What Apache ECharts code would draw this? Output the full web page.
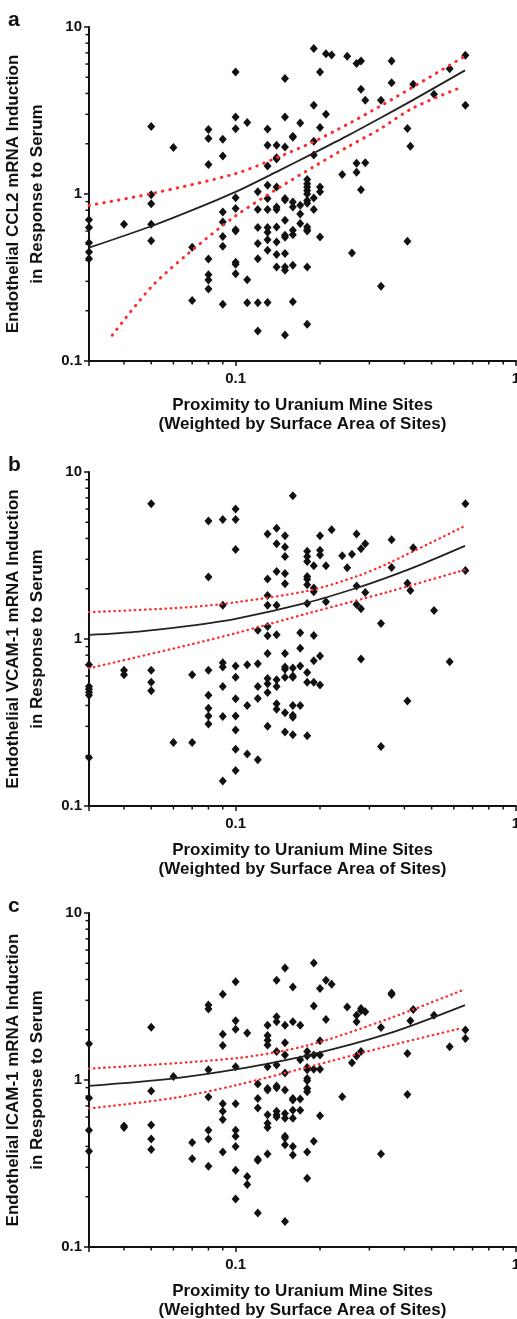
<!DOCTYPE html>
<html><head><meta charset="utf-8">
<script src="https://cdn.jsdelivr.net/npm/echarts@6/dist/echarts.min.js"></script>
<style>html,body{margin:0;padding:0;background:#fff}#c{width:517px;height:1319px}</style>
</head><body><div id="c"></div>
<script>
// ---- tick values ----
const xMinorTicks = [0.04,0.05,0.06,0.07,0.08,0.09,0.2,0.3,0.4,0.5,0.6,0.7,0.8,0.9];
const yMinorTicks = [0.2,0.3,0.4,0.5,0.6,0.7,0.8,0.9,2,3,4,5,6,7,8,9];
const xRange = [0.03, 1];
const yRange = [0.1, 10];

// ---- texts ----
const panelLetters = ['a','b','c'];
const xName = 'Proximity to Uranium Mine Sites\n(Weighted by Surface Area of Sites)';
const yNames = [
  'Endothelial CCL2 mRNA Induction\nin Response to Serum',
  'Endothelial VCAM-1 mRNA Induction\nin Response to Serum',
  'Endothelial ICAM-1 mRNA Induction\nin Response to Serum'
];

// ---- panel a: CCL2 ----
const ccl2Points = [
[0.03,0.70],[0.03,0.63],[0.03,0.51],[0.03,0.45],[0.03,0.41],
[0.04,0.66],
[0.05,2.54],[0.05,0.99],[0.05,0.875],[0.05,0.66],[0.05,0.524],
[0.06,1.90],
[0.07,0.48],[0.07,0.23],
[0.08,2.43],[0.08,2.15],[0.08,1.50],[0.08,0.408],[0.08,0.328],[0.08,0.305],[0.08,0.27],
[0.09,2.13],[0.09,1.69],[0.09,0.78],[0.09,0.68],[0.09,0.557],[0.09,0.486],[0.09,0.219],
[0.10,5.38],[0.10,2.89],[0.10,2.46],[0.10,0.95],[0.10,0.82],[0.10,0.61],[0.10,0.60],[0.10,0.39],[0.10,0.38],[0.10,0.333],
[0.11,2.68],[0.11,0.307],[0.11,0.223],
[0.12,1.03],[0.12,0.807],[0.12,0.63],[0.12,0.505],[0.12,0.41],[0.12,0.223],[0.12,0.151],
[0.13,2.45],[0.13,1.96],[0.13,1.47],[0.13,1.13],[0.13,0.94],[0.13,0.807],[0.13,0.63],[0.13,0.59],[0.13,0.533],[0.13,0.46],[0.13,0.224],
[0.14,1.96],[0.14,1.65],[0.14,1.62],[0.14,1.10],[0.14,0.836],[0.14,0.807],[0.14,0.634],[0.14,0.516],[0.14,0.434],[0.14,0.366],
[0.15,4.91],[0.15,2.89],[0.15,1.91],[0.15,0.94],[0.15,0.92],[0.15,0.697],[0.15,0.566],[0.15,0.55],[0.15,0.44],[0.15,0.366],[0.15,0.35],[0.15,0.143],
[0.16,2.22],[0.16,2.19],[0.16,0.895],[0.16,0.836],[0.16,0.607],[0.16,0.57],[0.16,0.374],[0.16,0.226],
[0.17,2.66],[0.17,0.855],[0.17,0.76],[0.17,0.665],
[0.18,1.22],[0.18,1.15],[0.18,1.10],[0.18,1.05],[0.18,1.0],[0.18,0.915],[0.18,0.88],[0.18,0.635],[0.18,0.61],[0.18,0.60],[0.18,0.366],[0.18,0.166],
[0.19,7.44],[0.19,3.40],[0.19,2.07],[0.19,1.71],[0.19,0.946],[0.19,0.807],
[0.20,5.38],[0.20,2.50],[0.20,1.10],[0.20,1.03],[0.20,0.553],
[0.21,6.92],[0.21,3.00],
[0.22,6.79],
[0.24,1.31],
[0.25,6.68],
[0.26,0.443],
[0.27,6.04],[0.27,1.53],[0.27,1.35],
[0.28,6.25],[0.28,4.24],[0.28,1.06],
[0.29,3.64],[0.29,1.54],
[0.33,3.64],[0.33,0.28],
[0.36,6.25],[0.36,4.64],
[0.41,2.47],[0.41,0.521],
[0.42,1.93],
[0.43,4.54],
[0.51,3.95],
[0.58,5.63],
[0.66,6.77],[0.66,3.40]
];
const ccl2Fit   = [[0.03,0.477],[0.05,0.641],[0.07,0.80],[0.1,1.03],[0.144,1.39],[0.189,1.75],[0.249,2.22],[0.327,2.84],[0.43,3.66],[0.658,5.5]];
const ccl2Upper = [[0.03,0.855],[0.05,1.005],[0.1,1.325],[0.144,1.68],[0.19,2.06],[0.249,2.60],[0.327,3.35],[0.43,4.38],[0.658,6.7]];
const ccl2Lower = [[0.0363,0.1426],[0.05,0.277],[0.0681,0.443],[0.1,0.74],[0.144,1.10],[0.189,1.45],[0.249,1.90],[0.327,2.45],[0.43,3.28],[0.648,4.4]];

// ---- panel b: VCAM-1 ----
const vcamPoints = [
[0.03,0.70],[0.03,0.52],[0.03,0.50],[0.03,0.48],[0.03,0.46],[0.03,0.195],
[0.04,0.65],[0.04,0.61],
[0.05,6.46],[0.05,0.65],[0.05,0.55],[0.05,0.49],
[0.06,0.24],
[0.07,0.61],[0.07,0.24],
[0.08,5.08],[0.08,2.35],[0.08,0.65],[0.08,0.46],[0.08,0.385],[0.08,0.346],[0.08,0.31],
[0.09,5.2],[0.09,1.59],[0.09,0.72],[0.09,0.68],[0.09,0.52],[0.09,0.344],[0.09,0.141],
[0.10,6.0],[0.10,5.2],[0.10,3.44],[0.10,0.69],[0.10,0.59],[0.10,0.438],[0.10,0.346],[0.10,0.285],[0.10,0.219],[0.10,0.163],
[0.11,0.70],[0.11,0.40],[0.11,0.205],
[0.12,1.13],[0.12,0.71],[0.12,0.52],[0.12,0.44],[0.12,0.189],
[0.13,4.25],[0.13,2.29],[0.13,1.82],[0.13,1.59],[0.13,1.19],[0.13,1.045],[0.13,0.82],[0.13,0.58],[0.13,0.54],[0.13,0.478],[0.13,0.30],
[0.14,4.6],[0.14,3.72],[0.14,2.54],[0.14,1.59],[0.14,1.06],[0.14,0.57],[0.14,0.52],[0.14,0.41],[0.14,0.38],
[0.15,4.15],[0.15,3.55],[0.15,3.12],[0.15,2.47],[0.15,2.14],[0.15,0.82],[0.15,0.68],[0.15,0.66],[0.15,0.59],[0.15,0.362],[0.15,0.277],
[0.16,7.2],[0.16,0.67],[0.16,0.60],[0.16,0.59],[0.16,0.40],[0.16,0.35],[0.16,0.34],[0.16,0.267],
[0.17,1.09],[0.17,0.88],[0.17,0.69],[0.17,0.40],
[0.18,3.35],[0.18,3.12],[0.18,2.91],[0.18,2.37],[0.18,2.28],[0.18,2.11],[0.18,1.63],[0.18,0.63],[0.18,0.55],[0.18,0.263],
[0.19,2.75],[0.19,2.02],[0.19,1.92],[0.19,1.05],[0.19,0.74],[0.19,0.55],
[0.20,4.15],[0.20,3.40],[0.20,3.18],[0.20,0.79],[0.20,0.53],
[0.21,2.75],[0.21,1.67],
[0.22,4.51],
[0.24,3.15],
[0.25,2.67],
[0.26,3.22],
[0.27,4.25],[0.27,2.08],[0.27,1.61],
[0.28,3.47],[0.28,1.52],[0.28,0.76],
[0.29,3.72],[0.29,1.90],
[0.33,1.24],[0.33,0.227],
[0.36,3.93],[0.36,2.68],
[0.41,2.16],[0.41,0.426],
[0.42,1.95],
[0.43,3.52],
[0.51,1.48],
[0.58,0.73],
[0.66,6.46],[0.66,2.57]
];
const vcamFit   = [[0.03,1.058],[0.0452,1.108],[0.0681,1.198],[0.1,1.32],[0.18,1.65],[0.27,2.02],[0.36,2.39],[0.46,2.80],[0.658,3.61]];
const vcamUpper = [[0.03,1.448],[0.0681,1.55],[0.1,1.66],[0.1826,1.95],[0.27,2.37],[0.352,2.85],[0.658,4.76]];
const vcamLower = [[0.03,0.668],[0.0681,0.922],[0.1,1.083],[0.1826,1.43],[0.352,1.92],[0.658,2.60]];

// ---- panel c: ICAM-1 ----
const icamPoints = [
[0.03,1.65],[0.03,0.78],[0.03,0.50],[0.03,0.375],
[0.04,0.53],[0.04,0.52],
[0.05,2.07],[0.05,0.86],[0.05,0.537],[0.05,0.443],[0.05,0.384],
[0.06,1.05],
[0.07,0.423],[0.07,0.338],
[0.08,2.81],[0.08,2.66],[0.08,1.15],[0.08,0.79],[0.08,0.50],[0.08,0.443],[0.08,0.304],
[0.09,3.26],[0.09,1.88],[0.09,1.61],[0.09,0.72],[0.09,0.65],[0.09,0.58],[0.09,0.37],
[0.10,3.87],[0.10,2.26],[0.10,2.01],[0.10,1.20],[0.10,0.72],[0.10,0.50],[0.10,0.46],[0.10,0.40],[0.10,0.288],[0.10,0.194],
[0.11,1.91],[0.11,0.264],[0.11,0.237],
[0.12,0.945],[0.12,0.776],[0.12,0.68],[0.12,0.335],[0.12,0.33],[0.12,0.16],
[0.13,2.13],[0.13,1.85],[0.13,1.73],[0.13,1.62],[0.13,1.20],[0.13,0.89],[0.13,0.87],[0.13,0.62],[0.13,0.55],[0.13,0.52],[0.13,0.36],
[0.14,3.95],[0.14,2.39],[0.14,2.23],[0.14,1.48],[0.14,1.23],[0.14,0.92],[0.14,0.90],[0.14,0.65],[0.14,0.62],[0.14,0.60],
[0.15,4.69],[0.15,2.13],[0.15,1.67],[0.15,1.41],[0.15,1.10],[0.15,0.87],[0.15,0.63],[0.15,0.59],[0.15,0.46],[0.15,0.45],[0.15,0.41],[0.15,0.142],
[0.16,3.61],[0.16,2.23],[0.16,0.776],[0.16,0.76],[0.16,0.66],[0.16,0.59],[0.16,0.40],[0.16,0.355],
[0.17,2.13],[0.17,1.32],[0.17,0.77],[0.17,0.66],
[0.18,1.48],[0.18,1.39],[0.18,1.19],[0.18,1.15],[0.18,1.02],[0.18,0.99],[0.18,0.89],[0.18,0.85],[0.18,0.37],[0.18,0.258],
[0.19,5.02],[0.19,2.77],[0.19,1.41],[0.19,1.16],[0.19,0.43],
[0.20,3.53],[0.20,1.72],[0.20,1.41],[0.20,1.16],[0.20,0.61],
[0.21,3.95],[0.21,2.30],
[0.22,3.75],
[0.24,0.794],
[0.25,2.74],
[0.26,1.27],
[0.27,2.44],[0.27,2.23],[0.27,1.39],
[0.28,2.68],[0.28,2.60],[0.28,1.48],
[0.29,2.56],
[0.33,2.06],[0.33,0.36],
[0.36,3.32],[0.36,3.25],
[0.41,1.44],[0.41,0.82],
[0.42,2.26],
[0.43,2.64],
[0.51,2.44],
[0.58,1.58],
[0.66,1.99],[0.66,1.77]
];
const icamFit   = [[0.03,0.923],[0.0594,1.02],[0.1,1.157],[0.1826,1.41],[0.352,1.90],[0.658,2.81]];
const icamUpper = [[0.03,1.17],[0.1,1.35],[0.1826,1.62],[0.352,2.33],[0.644,3.45]];
const icamLower = [[0.03,0.676],[0.06,0.78],[0.1,0.93],[0.1826,1.20],[0.352,1.60],[0.644,2.05]];

// ---- build chart ----
const FONT = "'Liberation Sans', Arial, Helvetica, sans-serif";
const INK = '#111111';
const RED = '#ff2b2b';
const tops = [27, 472, 913];
const plotH = 334;
const panels = [
  {points: ccl2Points, fit: ccl2Fit, upper: ccl2Upper, lower: ccl2Lower, dotW: 3, dash: [0.5, 7]},
  {points: vcamPoints, fit: vcamFit, upper: vcamUpper, lower: vcamLower, dotW: 2.3, dash: [0.5, 4.6]},
  {points: icamPoints, fit: icamFit, upper: icamUpper, lower: icamLower, dotW: 2.3, dash: [0.5, 4.6]}
];
const isPow10 = v => Math.abs(Math.log10(v) - Math.round(Math.log10(v))) < 1e-6;
const fmt = v => isPow10(v) ? String(Number(Number(v).toPrecision(6))) : '';

const grid = [], xAxis = [], yAxis = [], series = [], graphic = [];
panels.forEach((p, i) => {
  grid.push({left: 89, right: 1, top: tops[i], height: plotH, containLabel: false, outerBoundsMode: 'none'});
  xAxis.push({
    type: 'log', logBase: 10, gridIndex: i, min: xRange[0], max: xRange[1],
    axisLine: {show: true, lineStyle: {color: INK, width: 2}},
    axisTick: {show: true, length: 5, lineStyle: {color: INK, width: 1.5}},
    minorTick: {show: false}, splitLine: {show: false},
    axisLabel: {formatter: fmt, color: INK, fontFamily: FONT, fontWeight: 'bold', fontSize: 15, margin: 10},
    name: xName, nameLocation: 'middle', nameGap: 35,
    nameTextStyle: {color: INK, fontFamily: FONT, fontWeight: 'bold', fontSize: 17, lineHeight: 19}
  });
  yAxis.push({
    type: 'log', logBase: 10, gridIndex: i, min: yRange[0], max: yRange[1],
    axisLine: {show: true, lineStyle: {color: INK, width: 2}},
    axisTick: {show: true, length: 5, lineStyle: {color: INK, width: 1.5}},
    minorTick: {show: false}, splitLine: {show: false},
    axisLabel: {formatter: fmt, color: INK, fontFamily: FONT, fontWeight: 'bold', fontSize: 15, margin: 7},
    name: yNames[i], nameLocation: 'middle', nameGap: 40,
    nameTextStyle: {color: INK, fontFamily: FONT, fontWeight: 'bold', fontSize: 17, lineHeight: 23.5}
  });
  const tickData = xMinorTicks.map(v => [v, yRange[0], 0]).concat(yMinorTicks.map(v => [xRange[0], v, 1]));
  series.push({
    type: 'custom', xAxisIndex: i, yAxisIndex: i, clip: false, silent: true,
    encode: {x: 0, y: 1}, data: tickData,
    renderItem: (params, api) => {
      const c = api.coord([api.value(0), api.value(1)]);
      const horiz = api.value(2) === 1;
      return {type: 'line',
        shape: horiz ? {x1: c[0] - 3.5, y1: c[1], x2: c[0], y2: c[1]} : {x1: c[0], y1: c[1], x2: c[0], y2: c[1] + 3.5},
        style: {stroke: INK, lineWidth: 1.5}};
    }
  });
  series.push({
    type: 'scatter', xAxisIndex: i, yAxisIndex: i, data: p.points, clip: false,
    symbol: 'diamond', symbolSize: [8, 9], itemStyle: {color: INK, opacity: 1}, z: 3
  });
  series.push({
    type: 'line', xAxisIndex: i, yAxisIndex: i, data: p.fit, showSymbol: false,
    smooth: 0.3,
    lineStyle: {color: '#222', width: 1.8}, z: 4
  });
  [p.upper, p.lower].forEach(band => series.push({
    type: 'line', xAxisIndex: i, yAxisIndex: i, data: band, showSymbol: false,
    smooth: 0.3,
    lineStyle: {color: RED, width: p.dotW, type: p.dash, cap: 'round'}, z: 4
  }));
  graphic.push({type: 'text', left: 8, top: tops[i] - 17,
    style: {text: panelLetters[i], font: `bold 21px ${FONT}`, fill: INK}});
});

const chart = echarts.init(document.getElementById('c'), null, {renderer: 'canvas'});
chart.setOption({animation: false, backgroundColor: '#fff', grid, xAxis, yAxis, series, graphic});
</script>
</body></html>
